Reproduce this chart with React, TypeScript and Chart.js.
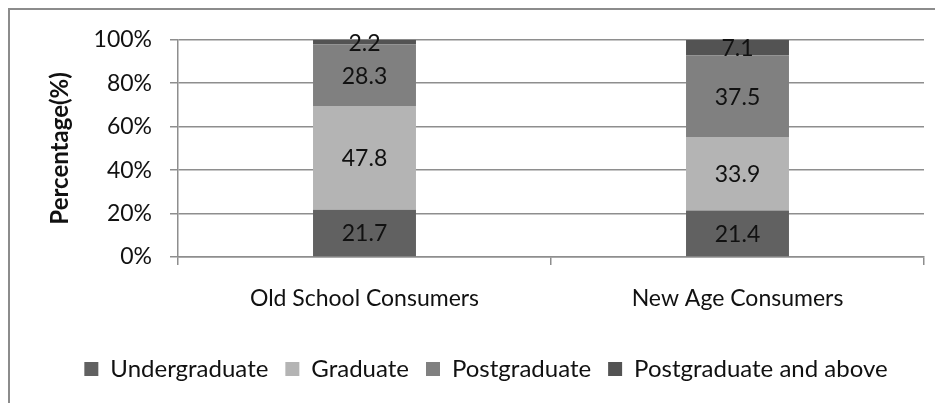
import React, { useEffect, useRef } from "react";
import { Chart, registerables } from "chart.js";

Chart.register(...registerables);

const categories = ["Old School Consumers", "New Age Consumers"];
const seriesNames = ["Undergraduate", "Graduate", "Postgraduate", "Postgraduate and above"];
const undergraduate = [21.7, 21.4];
const graduate = [47.8, 33.9];
const postgraduate = [28.3, 37.5];
const postgraduateAndAbove = [2.2, 7.1];
const seriesColors = ["#616161", "#b4b4b4", "#808080", "#535353"];
const yMin = 0;
const yMax = 100;
const yStep = 20;
const yAxisTitle = "Percentage(%)";

const FONT = "Lato, 'Liberation Sans', sans-serif";
const LINE = "#8e8e8e";

const framePlugin = {
  id: "frame",
  beforeDraw(chart: any) {
    const { ctx, width, height } = chart;
    ctx.save();
    ctx.fillStyle = "#ffffff";
    ctx.fillRect(0, 0, width, height);
    ctx.fillStyle = "#8c8c8c";
    ctx.fillRect(0, 0, 2, height);
    ctx.fillRect(0, 0, width, 2);
    ctx.restore();
  },
};

const valueLabelPlugin = {
  id: "valueLabels",
  afterDatasetsDraw(chart: any) {
    const { ctx } = chart;
    ctx.save();
    ctx.font = `23px ${FONT}`;
    ctx.fillStyle = "#111111";
    ctx.textAlign = "center";
    ctx.textBaseline = "middle";
    chart.data.datasets.forEach((ds: any, di: number) => {
      const meta = chart.getDatasetMeta(di);
      meta.data.forEach((el: any, i: number) => {
        const { x, y, base } = el.getProps(["x", "y", "base"], true);
        ctx.fillText(String(ds.data[i]), x, (y + base) / 2 + 1);
      });
    });
    ctx.restore();
  },
};

export default function App() {
  const ref = useRef<HTMLCanvasElement | null>(null);

  useEffect(() => {
    document.documentElement.style.overflow = "hidden";
    document.body.style.overflow = "hidden";
    const canvas = ref.current;
    if (!canvas) return;
    const values = [undergraduate, graduate, postgraduate, postgraduateAndAbove];
    const chart = new Chart(canvas, {
      type: "bar",
      data: {
        labels: categories,
        datasets: seriesNames.map((name, i) => ({
          label: name,
          data: values[i],
          backgroundColor: seriesColors[i],
          borderWidth: 0,
          barPercentage: 0.276,
          categoryPercentage: 1,
        })),
      },
      options: {
        animation: false,
        responsive: true,
        maintainAspectRatio: false,
        layout: { padding: { left: 40, right: 19, top: 30, bottom: 12 } },
        plugins: {
          tooltip: { enabled: false },
          legend: {
            position: "bottom",
            labels: {
              boxWidth: 14,
              boxHeight: 14,
              padding: 17,
              color: "#111111",
              font: { family: FONT, size: 24 },
            },
          },
        },
        scales: {
          x: {
            stacked: true,
            offset: true,
            grid: {
              offset: true,
              drawOnChartArea: false,
              drawTicks: true,
              tickLength: 8,
              color: LINE,
              lineWidth: 1.5,
            },
            border: { display: true, color: LINE, width: 1.5 },
            ticks: {
              padding: 20,
              color: "#111111",
              font: { family: FONT, size: 23 },
              maxRotation: 0,
            },
            afterFit(scale: any) {
              scale.height = 83;
            },
          },
          y: {
            stacked: true,
            min: yMin,
            max: yMax,
            ticks: {
              stepSize: yStep,
              padding: 18,
              color: "#111111",
              font: { family: FONT, size: 23 },
              callback: (v: any) => `${v}%`,
            },
            grid: {
              color: LINE,
              lineWidth: 1.5,
              drawTicks: true,
              tickLength: 8,
            },
            border: { display: true, color: LINE, width: 1.5 },
            title: {
              display: true,
              text: yAxisTitle,
              color: "#111111",
              font: { family: FONT, size: 24, weight: "bold" },
              padding: { top: -2, bottom: 0 },
            },
            afterFit(scale: any) {
              scale.width = 130;
            },
          },
        },
      },
      plugins: [framePlugin, valueLabelPlugin],
    });
    return () => chart.destroy();
  }, []);

  return (
    <div style={{ position: "relative", width: "935px", height: "395px" }}>
      <canvas ref={ref} />
    </div>
  );
}
